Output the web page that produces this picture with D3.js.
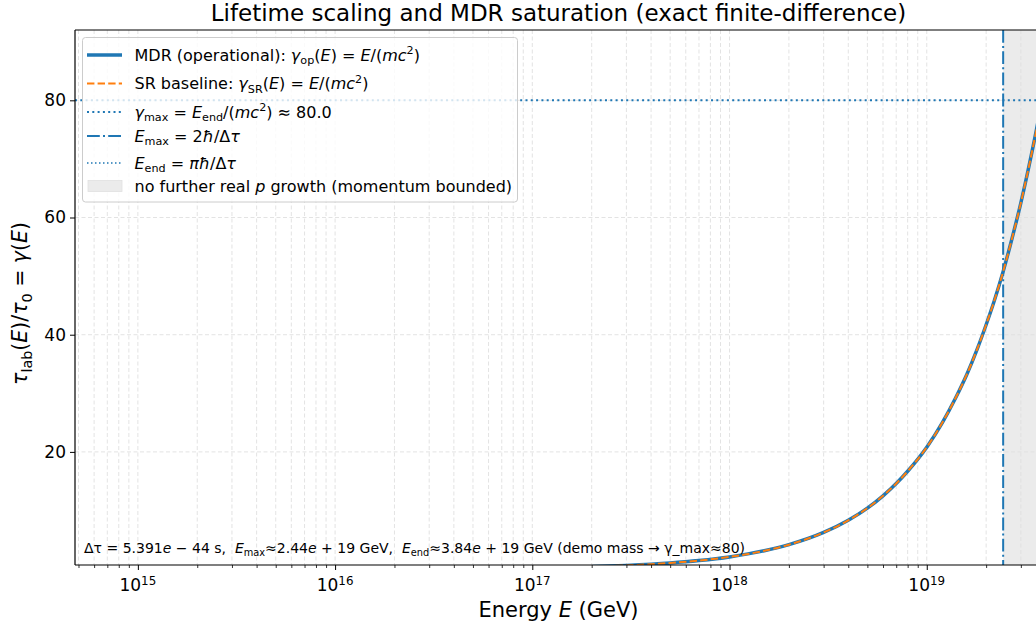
<!DOCTYPE html>
<html>
<head>
<meta charset="utf-8">
<script src="https://cdn.jsdelivr.net/npm/d3@7"></script>
<style>
  body { margin: 0; background: #fff; }
  svg text { font-family: "DejaVu Sans", sans-serif; fill: #000; white-space: pre; }
</style>
</head>
<body>
<div id="chart"></div>
<script>
// energies (GeV) and gamma
const energyGeV = [4.8e14, 1e15, 1e16, 1e17, 2e17, 3e17, 5e17, 7e17, 1e18, 1.5e18, 2e18, 3e18, 4e18,
  5e18, 6e18, 7e18, 8e18, 1e19, 1.2e19, 1.4e19, 1.6e19, 1.8e19, 2e19, 2.2e19, 2.44e19, 2.7e19,
  3e19, 3.3e19, 3.6e19, 3.84e19];
const gammaOp = [0.001, 0.0021, 0.021, 0.21, 0.42, 0.63, 1.04, 1.46, 2.08, 3.13, 4.17, 6.25, 8.33,
  10.4, 12.5, 14.6, 16.7, 20.8, 25.0, 29.2, 33.3, 37.5, 41.7, 45.8, 50.8, 56.3,
  62.5, 68.8, 75.0, 80.0];
const gammaSR = gammaOp.slice();
const gammaMax = 80;
const eMax = 2.44e19;
const eEnd = 3.84e19;
const xMajor = [1e15, 1e16, 1e17, 1e18, 1e19];
const yTicks = [20, 40, 60, 80];

const W = 1036, H = 628;
const pLeft = 75, pRight = 1042, pTop = 30, pBottom = 565;
const blue = '#1f77b4', orange = '#ff7f0e';

const svg = d3.select('#chart').append('svg')
    .attr('width', W).attr('height', H);

const x = d3.scaleLog().domain([4.8e14, eEnd]).range([pLeft, pRight]);
const y = d3.scaleLinear().domain([0.7, 92]).range([pBottom, pTop]);

svg.append('defs').append('clipPath').attr('id', 'plotclip')
  .append('rect').attr('x', pLeft).attr('y', pTop)
  .attr('width', pRight - pLeft).attr('height', pBottom - pTop);

// minor ticks
let xMinor = [];
for (let e = 14; e <= 19; e++) {
  for (let k = 2; k <= 9; k++) {
    const v = k * Math.pow(10, e);
    if (v >= x.domain()[0] && v <= x.domain()[1]) xMinor.push(v);
  }
}

// rich text helper (italic / sub / sup pieces)
function rich(sel, parts, size) {
  let shift = 0;
  parts.forEach(function(p) {
    const t = sel.append('tspan').text(p.t);
    let want = 0;
    if (p.sub) want = size * 0.24;
    if (p.sup) want = -size * 0.38;
    if (want - shift !== 0) t.attr('dy', want - shift);
    shift = want;
    if (p.i) t.style('font-style', 'italic');
    if (p.sub || p.sup) t.style('font-size', (size * 0.7) + 'px');
  });
}

const plot = svg.append('g').attr('clip-path', 'url(#plotclip)');

// shaded region
plot.append('rect')
  .attr('x', x(eMax)).attr('y', pTop)
  .attr('width', x(eEnd) - x(eMax)).attr('height', pBottom - pTop)
  .attr('fill', '#ebebeb');

// grid
const grid = plot.append('g')
  .attr('stroke', '#e0e0e0').attr('stroke-width', 0.9).attr('stroke-dasharray', '4,2.5');
grid.selectAll('.gx').data(xMajor.concat(xMinor)).enter().append('line')
  .attr('x1', d => x(d)).attr('x2', d => x(d)).attr('y1', pTop).attr('y2', pBottom);
grid.selectAll('.gy').data(yTicks).enter().append('line')
  .attr('x1', pLeft).attr('x2', pRight).attr('y1', d => y(d)).attr('y2', d => y(d));

// gamma_max line
plot.append('line')
  .attr('x1', pLeft).attr('x2', pRight).attr('y1', y(gammaMax)).attr('y2', y(gammaMax))
  .attr('stroke', blue).attr('stroke-width', 2).attr('stroke-dasharray', '2,3.3');

// E_max / E_end lines
plot.append('line')
  .attr('x1', x(eMax)).attr('x2', x(eMax)).attr('y1', pTop).attr('y2', pBottom)
  .attr('stroke', blue).attr('stroke-width', 2).attr('stroke-dasharray', '12.8,3.2,2,3.2');
plot.append('line')
  .attr('x1', x(eEnd)).attr('x2', x(eEnd)).attr('y1', pTop).attr('y2', pBottom)
  .attr('stroke', blue).attr('stroke-width', 1.5).attr('stroke-dasharray', '1.5,2.5');

// curves
const line = d3.line().x(d => x(d[0])).y(d => y(d[1])).curve(d3.curveMonotoneX);
plot.append('path')
  .datum(energyGeV.map((e, i) => [e, gammaOp[i]]))
  .attr('d', line).attr('fill', 'none').attr('stroke', blue).attr('stroke-width', 3.5);
plot.append('path')
  .datum(energyGeV.map((e, i) => [e, gammaSR[i]]))
  .attr('d', line).attr('fill', 'none').attr('stroke', orange).attr('stroke-width', 2)
  .attr('stroke-dasharray', '7.4,3.2');

// axes
const xAxis = svg.append('g').attr('transform', `translate(0,${pBottom})`)
  .call(d3.axisBottom(x).tickValues(xMajor).tickSize(5).tickFormat(''));
xAxis.select('.domain').remove();
xAxis.selectAll('line').attr('stroke', '#000').attr('stroke-width', 1);
const xMinorAx = svg.append('g').attr('transform', `translate(0,${pBottom})`)
  .call(d3.axisBottom(x).tickValues(xMinor).tickSize(3).tickFormat(''));
xMinorAx.select('.domain').remove();
xMinorAx.selectAll('line').attr('stroke', '#000').attr('stroke-width', 0.8);

xMajor.forEach(function(v) {
  const t = svg.append('text').attr('x', x(v)).attr('y', 591)
    .attr('text-anchor', 'middle').style('font-size', '17px');
  rich(t, [{t: '10'}, {t: String(Math.round(Math.log10(v))), sup: true}], 17);
});

const yAxis = svg.append('g').attr('transform', `translate(${pLeft},0)`)
  .call(d3.axisLeft(y).tickValues(yTicks).tickSize(5).tickPadding(4));
yAxis.select('.domain').remove();
yAxis.selectAll('line').attr('stroke', '#000').attr('stroke-width', 1);
yAxis.selectAll('text').style('font-size', '17px').style('font-family', '"DejaVu Sans", sans-serif');

// spines
svg.append('line').attr('x1', pLeft).attr('x2', pLeft).attr('y1', pTop).attr('y2', pBottom)
  .attr('stroke', '#000').attr('stroke-width', 1.2);
svg.append('line').attr('x1', pLeft).attr('x2', pRight).attr('y1', pBottom).attr('y2', pBottom)
  .attr('stroke', '#000').attr('stroke-width', 1.2);
svg.append('line').attr('x1', pLeft).attr('x2', pRight).attr('y1', pTop).attr('y2', pTop)
  .attr('stroke', '#000').attr('stroke-width', 1.2);

// title & labels
svg.append('text').attr('x', (pLeft + pRight) / 2).attr('y', 21)
  .attr('text-anchor', 'middle').style('font-size', '23px')
  .text('Lifetime scaling and MDR saturation (exact finite-difference)');

const xl = svg.append('text').attr('x', (pLeft + pRight) / 2).attr('y', 617)
  .attr('text-anchor', 'middle').style('font-size', '21px');
rich(xl, [{t: 'Energy '}, {t: 'E', i: true}, {t: ' (GeV)'}], 21);

const yl = svg.append('text').attr('transform', `translate(27,${(pTop + pBottom) / 2 + 6}) rotate(-90)`)
  .attr('text-anchor', 'middle').style('font-size', '20.5px');
rich(yl, [{t: 'τ', i: true}, {t: 'lab', sub: true}, {t: '('}, {t: 'E', i: true}, {t: ')/'},
  {t: 'τ', i: true}, {t: '0', sub: true}, {t: ' = '}, {t: 'γ', i: true}, {t: '('}, {t: 'E', i: true}, {t: ')'}], 20.5);

// annotation
const ann = svg.append('text').attr('x', 84).attr('y', 553).style('font-size', '14px');
rich(ann, [{t: 'Δτ = 5.391'}, {t: 'e', i: true}, {t: ' − 44 s,  '}, {t: 'E', i: true}, {t: 'max', sub: true},
  {t: '≈2.44'}, {t: 'e', i: true}, {t: ' + 19 GeV,  '}, {t: 'E', i: true}, {t: 'end', sub: true},
  {t: '≈3.84'}, {t: 'e', i: true}, {t: ' + 19 GeV (demo mass → γ_max≈80)'}], 14);

// legend
const lg = svg.append('g');
lg.append('rect').attr('x', 82.5).attr('y', 37.5).attr('width', 435).attr('height', 164.5)
  .attr('rx', 3).attr('fill', '#fff').attr('fill-opacity', 0.8)
  .attr('stroke', '#cccccc').attr('stroke-width', 1);
const fs = 16;
const items = [
  {yy: 55, kind: 'line', color: blue, w: 3.5, dash: null,
   parts: [{t: 'MDR (operational): '}, {t: 'γ', i: true}, {t: 'op', sub: true}, {t: '('}, {t: 'E', i: true},
     {t: ') = '}, {t: 'E', i: true}, {t: '/('}, {t: 'mc', i: true}, {t: '2', sup: true}, {t: ')'}]},
  {yy: 83.5, kind: 'line', color: orange, w: 2, dash: '7.4,3.2',
   parts: [{t: 'SR baseline: '}, {t: 'γ', i: true}, {t: 'SR', sub: true}, {t: '('}, {t: 'E', i: true},
     {t: ') = '}, {t: 'E', i: true}, {t: '/('}, {t: 'mc', i: true}, {t: '2', sup: true}, {t: ')'}]},
  {yy: 112, kind: 'line', color: blue, w: 2, dash: '2,3.3',
   parts: [{t: 'γ', i: true}, {t: 'max', sub: true}, {t: ' = '}, {t: 'E', i: true}, {t: 'end', sub: true},
     {t: '/('}, {t: 'mc', i: true}, {t: '2', sup: true}, {t: ') ≈ 80.0'}]},
  {yy: 136, kind: 'line', color: blue, w: 2, dash: '12.8,3.2,2,3.2',
   parts: [{t: 'E', i: true}, {t: 'max', sub: true}, {t: ' = 2'}, {t: 'ħ', i: true}, {t: '/Δ'}, {t: 'τ', i: true}]},
  {yy: 163, kind: 'line', color: blue, w: 1.5, dash: '1.5,2.5',
   parts: [{t: 'E', i: true}, {t: 'end', sub: true}, {t: ' = '}, {t: 'πħ', i: true}, {t: '/Δ'}, {t: 'τ', i: true}]},
  {yy: 186, kind: 'patch',
   parts: [{t: 'no further real '}, {t: 'p', i: true}, {t: ' growth (momentum bounded)'}]}
];
items.forEach(function(it) {
  if (it.kind === 'line') {
    lg.append('line').attr('x1', 87).attr('x2', 122).attr('y1', it.yy).attr('y2', it.yy)
      .attr('stroke', it.color).attr('stroke-width', it.w)
      .attr('stroke-dasharray', it.dash);
  } else {
    lg.append('rect').attr('x', 88).attr('y', it.yy - 5.5).attr('width', 34).attr('height', 11)
      .attr('fill', '#ebebeb').attr('stroke', '#e0e0e0').attr('stroke-width', 0.8);
  }
  const t = lg.append('text').attr('x', 134.5).attr('y', it.yy + 5.5).style('font-size', fs + 'px');
  rich(t, it.parts, fs);
});
</script>
</body>
</html>
